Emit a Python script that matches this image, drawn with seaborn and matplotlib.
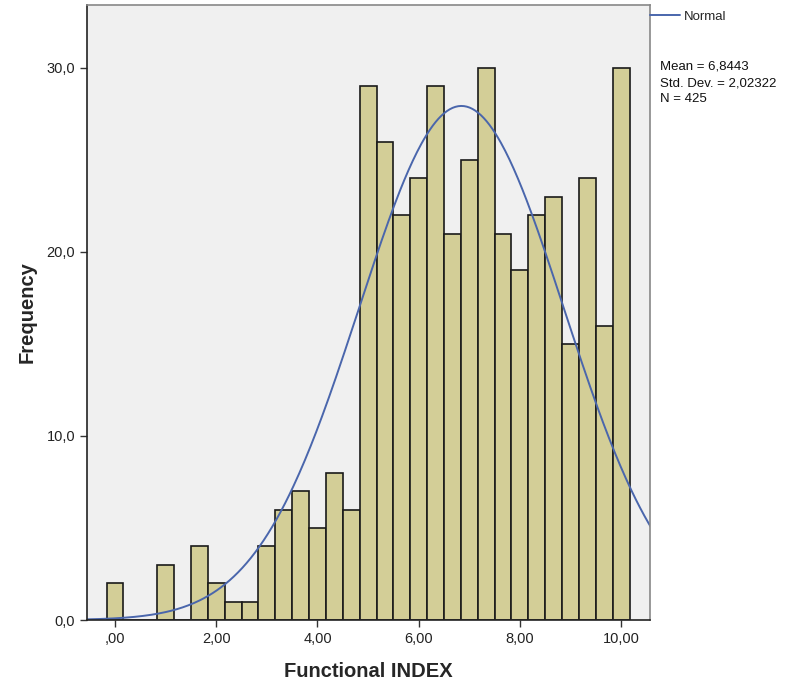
import numpy as np
import pandas as pd
import matplotlib
matplotlib.use("Agg")
import matplotlib.pyplot as plt
import seaborn as sns

bin_index = list(range(31))
counts = [2, 0, 0, 3, 0, 4, 2, 1, 1, 4, 6, 7, 5, 8, 6,
          29, 26, 22, 24, 29, 21, 25, 30, 21, 19, 22, 23, 15, 24, 16, 30]
mean_val = 6.8443
sd_val = 2.02322
n_val = 425
x_ticks = [0, 2, 4, 6, 8, 10]
x_labels = [",00", "2,00", "4,00", "6,00", "8,00", "10,00"]
y_ticks = [0, 10, 20, 30]
y_labels = ["0,0", "10,0", "20,0", "30,0"]

bw = 1 / 3
df = pd.DataFrame({"x": np.array(bin_index) * bw, "n": counts})

sns.set_style("white")
plt.rcParams["font.family"] = ["Liberation Sans", "DejaVu Sans"]

fig = plt.figure(figsize=(7.95, 6.85), dpi=100)
ax = fig.add_axes([87 / 795, 65 / 685, 563 / 795, 615 / 685])
ax.set_facecolor("#f0f0f0")

sns.histplot(data=df, x="x", weights="n", binwidth=bw, binrange=(-bw / 2, 10 + bw / 2),
             ax=ax, color="#d3ce97", alpha=1, edgecolor="#1a1a1a", linewidth=1.2)

xs = np.linspace(-0.6, 10.6, 400)
pdf = n_val * bw / (sd_val * np.sqrt(2 * np.pi)) * np.exp(-0.5 * ((xs - mean_val) / sd_val) ** 2)
line, = ax.plot(xs, pdf, color="#4a66ac", linewidth=1.4)

ax.set_xlim(-0.553, 10.57)
ax.set_ylim(0, 33.42)
ax.set_xticks(x_ticks)
ax.set_xticklabels(x_labels)
ax.set_yticks(y_ticks)
ax.set_yticklabels(y_labels)
ax.tick_params(axis="both", direction="out", length=5, width=1, color="#333333",
               labelsize=10.5, labelcolor="#222222", bottom=True, left=True)
for s in ax.spines.values():
    s.set_visible(True)
    s.set_color("#222222")
    s.set_linewidth(1.2)
ax.spines["right"].set_color("#888888")
ax.spines["top"].set_color("#888888")

ax.set_xlabel("Functional INDEX", fontsize=14.5, fontweight="bold", labelpad=12)
ax.set_ylabel("Frequency", fontsize=14.5, fontweight="bold", labelpad=7)

fig.legend([line], ["Normal"], loc="center left", bbox_to_anchor=(650 / 795, 1 - 17 / 685),
           frameon=False, fontsize=9.5, handlelength=2.3, handletextpad=0.3, borderaxespad=0,
           borderpad=0)
fig.text(660 / 795, 1 - 83 / 685,
         "Mean = 6,8443\nStd. Dev. = 2,02322\nN = 425",
         fontsize=9.5, va="center", ha="left", linespacing=1.45, color="#111111")

fig.savefig("out.png", dpi=100)
